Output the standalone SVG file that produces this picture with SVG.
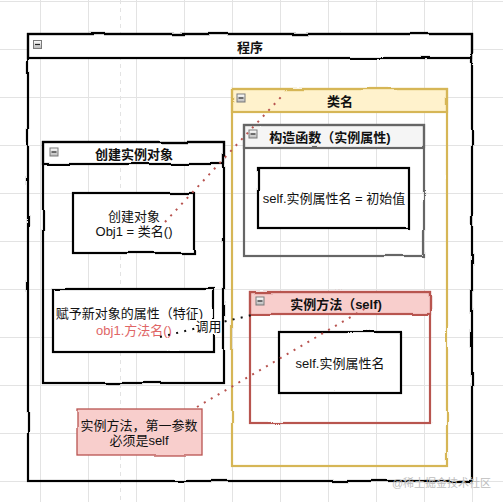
<svg xmlns="http://www.w3.org/2000/svg" width="503" height="502" viewBox="0 0 503 502">
<defs>
  <filter id="rough" x="-5%" y="-5%" width="110%" height="110%">
    <feTurbulence type="fractalNoise" baseFrequency="0.025" numOctaves="1" seed="7" result="n"/>
    <feDisplacementMap in="SourceGraphic" in2="n" scale="3" xChannelSelector="R" yChannelSelector="G"/>
  </filter>
  <linearGradient id="icoG" x1="0" y1="0" x2="0" y2="1">
    <stop offset="0" stop-color="#ffffff"/>
    <stop offset="1" stop-color="#b8b8b8"/>
  </linearGradient>
  <g id="ico">
    <rect x="0.5" y="0.5" width="8" height="8" fill="url(#icoG)" stroke="#7a7a7a" stroke-width="1"/>
    <line x1="2" y1="4.5" x2="7" y2="4.5" stroke="#222" stroke-width="1.2"/>
  </g>
</defs>
<style>
  .grid line { stroke: #e3e3e3; stroke-width: 1; }
  .sk { filter: url(#rough); stroke-width: 2.2; }
  .blk { stroke: #000; }
  .yel { stroke: #d6b656; }
  .gry { stroke: #666666; }
  .red { stroke: #b85450; }
  text { font-family: "Liberation Sans", "Noto Sans CJK SC", sans-serif; font-size: 13px; fill: #111; text-anchor: middle; }
  .b { font-weight: bold; }
  .dotR { fill: none; stroke: #b85450; stroke-width: 2; stroke-dasharray: 2 6; }
  .dotK { fill: none; stroke: #111; stroke-width: 2; stroke-dasharray: 2 6.3; }
</style>
<rect x="0" y="0" width="503" height="502" fill="#ffffff"/>
<g class="grid">
  <line x1="40.5" y1="0" x2="40.5" y2="502"/>
  <line x1="88.5" y1="0" x2="88.5" y2="502"/>
  <line x1="136.5" y1="0" x2="136.5" y2="502"/>
  <line x1="184.5" y1="0" x2="184.5" y2="502"/>
  <line x1="232.5" y1="0" x2="232.5" y2="502"/>
  <line x1="280.5" y1="0" x2="280.5" y2="502"/>
  <line x1="328.5" y1="0" x2="328.5" y2="502"/>
  <line x1="376.5" y1="0" x2="376.5" y2="502"/>
  <line x1="424.5" y1="0" x2="424.5" y2="502"/>
  <line x1="472.5" y1="0" x2="472.5" y2="502"/>
  <line x1="0" y1="1.5" x2="503" y2="1.5"/>
  <line x1="0" y1="49.5" x2="503" y2="49.5"/>
  <line x1="0" y1="97.5" x2="503" y2="97.5"/>
  <line x1="0" y1="145.5" x2="503" y2="145.5"/>
  <line x1="0" y1="193.5" x2="503" y2="193.5"/>
  <line x1="0" y1="241.5" x2="503" y2="241.5"/>
  <line x1="0" y1="289.5" x2="503" y2="289.5"/>
  <line x1="0" y1="337.5" x2="503" y2="337.5"/>
  <line x1="0" y1="385.5" x2="503" y2="385.5"/>
  <line x1="0" y1="433.5" x2="503" y2="433.5"/>
  <line x1="0" y1="481.5" x2="503" y2="481.5"/>
  <line x1="120.5" y1="0" x2="120.5" y2="502" stroke="#bdbdbd" stroke-dasharray="4 4"/>
</g>

<g id="program">
  <rect class="sk blk" x="28" y="34" width="444" height="24" fill="#ffffff"/>
  <rect class="sk blk" x="28" y="34" width="444" height="447" fill="none"/>
  <use href="#ico" x="33" y="40"/>
  <text class="b" x="250" y="52">程序</text>
</g>

<g id="create-instance">
  <rect class="sk blk" x="43" y="142" width="181" height="22" fill="#ffffff"/>
  <rect class="sk blk" x="43" y="142" width="181" height="241" fill="none"/>
  <use href="#ico" x="49.5" y="147.5"/>
  <text class="b" x="134" y="158.5">创建实例对象</text>
</g>

<g id="create-object">
  <rect class="sk blk" x="73" y="193" width="121" height="60" fill="#ffffff"/>
  <text x="134" y="221">创建对象</text>
  <text x="134" y="235.5">Obj1 = 类名()</text>
</g>

<g id="assign-attrs">
  <rect class="sk blk" x="53" y="289" width="161" height="63" fill="#ffffff"/>
  <text x="129.5" y="318">赋予新对象的属性（特征)</text>
  <text x="134" y="334.5" style="fill:#e06666">obj1.方法名()</text>
</g>

<g id="class-name">
  <rect class="sk yel" x="232" y="89" width="215" height="23" fill="#fff2cc"/>
  <rect class="sk yel" x="232" y="89" width="215" height="377" fill="none"/>
  <use href="#ico" x="236.5" y="93.5"/>
  <text class="b" x="340" y="105.5">类名</text>
</g>

<g id="constructor">
  <rect class="sk gry" x="244" y="125" width="180" height="23" fill="#f5f5f5"/>
  <rect class="sk gry" x="244" y="125" width="180" height="131" fill="none"/>
  <use href="#ico" x="248.5" y="129.5"/>
  <text class="b" x="330" y="142">构造函数（实例属性)</text>
</g>

<g id="init-attr">
  <rect class="sk blk" x="258" y="168" width="151" height="60" fill="#ffffff"/>
  <text x="334" y="203">self.实例属性名 = 初始值</text>
</g>

<g id="instance-method">
  <rect class="sk red" x="250" y="292" width="180" height="22" fill="#f8cecc"/>
  <rect class="sk red" x="250" y="292" width="180" height="131" fill="none"/>
  <use href="#ico" x="255.5" y="296.5"/>
  <text class="b" x="336" y="308.5">实例方法（self)</text>
</g>

<g id="self-attr">
  <rect class="sk blk" x="279" y="332" width="122" height="61" fill="#ffffff"/>
  <text x="340" y="368">self.实例属性名</text>
</g>

<g id="note">
  <rect class="sk red" x="77" y="409" width="125" height="46" fill="#f8cecc" style="stroke-width:1.3"/>
  <text x="139" y="429.5">实例方法，第一参数</text>
  <text x="139" y="445">必须是self</text>
</g>

<g id="connectors">
  <path class="dotR" d="M165 222 L281 97"/>
  <path class="dotR" d="M197 407 L366 308"/>
  <path class="dotK" d="M160 337 L256 314"/>
  <rect x="196" y="319" width="25" height="15" fill="#ffffff"/>
  <text x="208.5" y="331">调用</text>
</g>

<text x="441.5" y="486.5" style="font-size:11px;fill:#bdbdbd">@稀土掘金技术社区</text>
</svg>
